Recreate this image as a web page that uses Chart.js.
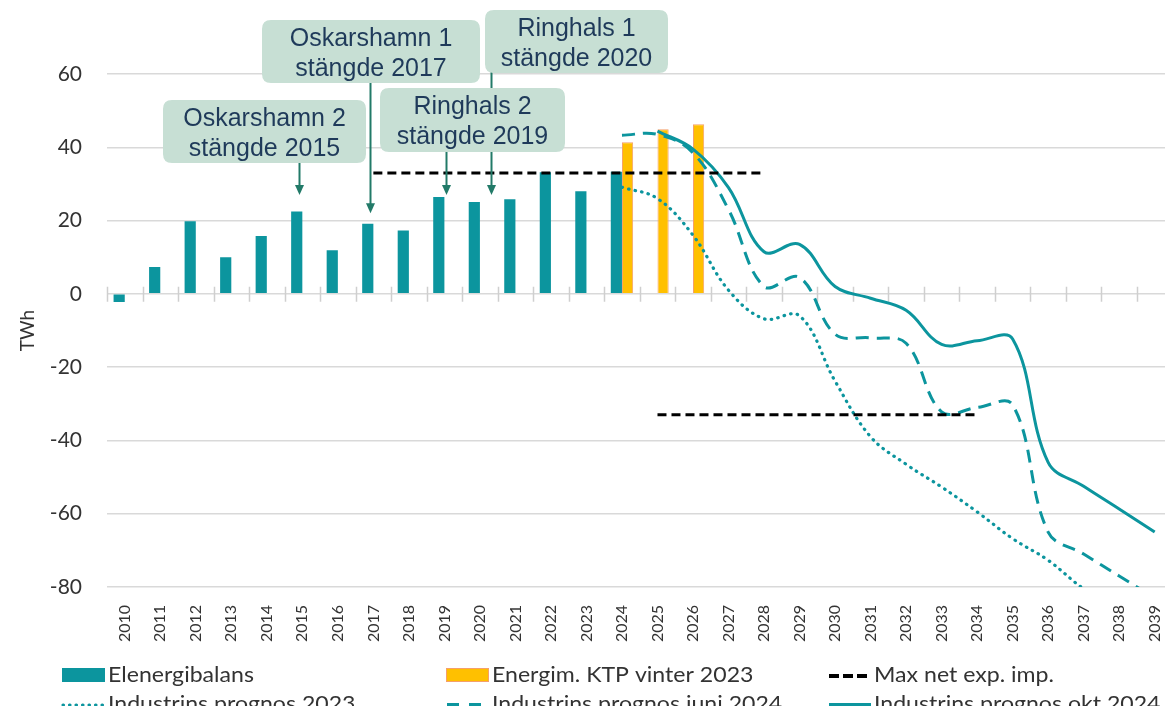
<!DOCTYPE html>
<html>
<head>
<meta charset="utf-8">
<script src="https://cdn.jsdelivr.net/npm/chart.js@4.4.1/dist/chart.umd.min.js"></script>
<style>
html,body{margin:0;padding:0;background:#ffffff;overflow:hidden;}
#wrap{position:absolute;left:0;top:0;width:1184px;height:730px;}
</style>
</head>
<body>
<div id="wrap"><canvas id="c"></canvas></div>
<script>
// ---------- data ----------
const years = ['2010','2011','2012','2013','2014','2015','2016','2017','2018','2019',
               '2020','2021','2022','2023','2024','2025','2026','2027','2028','2029',
               '2030','2031','2032','2033','2034','2035','2036','2037','2038','2039'];

const elenergibalans = [-2.2, 7.3, 19.8, 10.0, 15.8, 22.5, 11.9, 19.1, 17.3, 26.4,
                        25.1, 25.8, 33.2, 28.0, 33.3, null, null, null, null, null,
                        null, null, null, null, null, null, null, null, null, null];

const energimKtp = [null, null, null, null, null, null, null, null, null, null,
                    null, null, null, null, 41.4, 44.9, 46.3, null, null, null,
                    null, null, null, null, null, null, null, null, null, null];

const maxNetExp = [null, null, null, null, null, null, null, 33, 33, 33,
                   33, 33, 33, 33, 33, 33, 33, 33, 33, null,
                   null, null, null, null, null, null, null, null, null, null];

const maxNetImp = [null, null, null, null, null, null, null, null, null, null,
                   null, null, null, null, null, -33, -33, -33, -33, -33,
                   -33, -33, -33, -33, -33, null, null, null, null, null];

const prognos2023 = [null, null, null, null, null, null, null, null, null, null,
                     null, null, null, null, 29.1, 26.0, 16.0, 1.0, -6.8, -6.0,
                     -23.8, -39.0, -46.5, -52.7, -59.5, -66.8, -72.7, -80.5, -86.0, -91.0];

const prognosJuni2024 = [null, null, null, null, null, null, null, null, null, null,
                         null, null, null, null, 43.3, 43.5, 38.5, 23.0, 2.0, 4.5,
                         -11.0, -12.0, -13.5, -32.2, -31.0, -30.3, -65.0, -71.0, -77.0, -83.0];

const prognosOkt2024 = [null, null, null, null, null, null, null, null, null, null,
                        null, null, null, null, null, 44.4, 39.5, 29.0, 11.5, 13.5,
                        2.0, -1.2, -4.5, -13.8, -12.8, -12.3, -46.0, -52.5, -58.7, -65.0];

const yTicks = [-80, -60, -40, -20, 0, 20, 40, 60];
const yTitle = 'TWh';

// ---------- styles ----------
const TEAL = '#0c959e';
const ORANGE = '#ffc000';
const ORANGE_EDGE = '#f5a06a';
const GRID = '#d9d9d9';
const TXT = '#333333';

// annotation callouts (decorations, not data)
const callouts = [
  {lines:['Oskarshamn 1','stängde 2017'], box:[262,20,480,83], cat:7, dx:-3, from:83, tip:22},
  {lines:['Ringhals 1','stängde 2020'],   box:[485,10,668,73], cat:10, dx:11, from:72, tip:27},
  {lines:['Oskarshamn 2','stängde 2015'], box:[163,100,366,163], cat:5, dx:-3, from:163, tip:27},
  {lines:['Ringhals 2','stängde 2019'],   box:[380,88,565,152], cat:9, dx:2, from:152, tip:27}
];

const zeroTicks = {
  id: 'zeroTicks',
  beforeDatasetsDraw(chart) {
    const ctx = chart.ctx, xs = chart.scales.x, ys = chart.scales.y;
    const y0 = ys.getPixelForValue(0);
    const n = xs.getLabels().length;
    const w = (xs.right - xs.left) / n;
    ctx.save();
    ctx.strokeStyle = '#cfcfcf';
    ctx.lineWidth = 1.5;
    ctx.beginPath();
    for (let i = 0; i <= n; i++) {
      const px = Math.round(xs.left + i * w) + 0.5;
      ctx.moveTo(px, y0 - 7);
      ctx.lineTo(px, y0 + 8);
    }
    ctx.stroke();
    ctx.restore();
  }
};

function roundRect(ctx, x0, y0, x1, y1, r) {
  ctx.beginPath();
  ctx.moveTo(x0 + r, y0);
  ctx.lineTo(x1 - r, y0);
  ctx.quadraticCurveTo(x1, y0, x1, y0 + r);
  ctx.lineTo(x1, y1 - r);
  ctx.quadraticCurveTo(x1, y1, x1 - r, y1);
  ctx.lineTo(x0 + r, y1);
  ctx.quadraticCurveTo(x0, y1, x0, y1 - r);
  ctx.lineTo(x0, y0 + r);
  ctx.quadraticCurveTo(x0, y0, x0 + r, y0);
  ctx.closePath();
}

const calloutPlugin = {
  id: 'callouts',
  afterDatasetsDraw(chart) {
    const ctx = chart.ctx, xs = chart.scales.x, ys = chart.scales.y;
    ctx.save();
    ctx.strokeStyle = '#227a68';
    ctx.fillStyle = '#227a68';
    ctx.lineWidth = 2;
    callouts.forEach(c => {
      const x = Math.round(xs.getPixelForValue(c.cat) + c.dx) + 0.5;
      const tipY = ys.getPixelForValue(c.tip);
      ctx.beginPath();
      ctx.moveTo(x, c.from);
      ctx.lineTo(x, tipY - 8);
      ctx.stroke();
      ctx.beginPath();
      ctx.moveTo(x - 4.5, tipY - 10);
      ctx.lineTo(x + 4.5, tipY - 10);
      ctx.lineTo(x, tipY);
      ctx.closePath();
      ctx.fill();
    });
    callouts.forEach(c => {
      const [x0, y0, x1, y1] = c.box;
      roundRect(ctx, x0, y0, x1, y1, 9);
      ctx.fillStyle = '#c7dfd4';
      ctx.fill();
      ctx.fillStyle = '#1f3a5a';
      ctx.font = '25px "Liberation Sans", Arial, sans-serif';
      ctx.textAlign = 'center';
      ctx.textBaseline = 'alphabetic';
      const cx = (x0 + x1) / 2;
      ctx.fillText(c.lines[0], cx, y0 + 26);
      ctx.fillText(c.lines[1], cx, y0 + 56);
    });
    ctx.restore();
  }
};

const legendCols = [62, 446, 828];
const legendRows = [675, 704];
const legendPlugin = {
  id: 'colLegend',
  afterDraw(chart) {
    const ctx = chart.ctx;
    const items = chart.data.datasets.filter(d => !d.hideInLegend);
    ctx.save();
    items.forEach((d, i) => {
      const x = legendCols[i % 3];
      const y = legendRows[Math.floor(i / 3)];
      const sw = 43;
      if (d.type === 'bar') {
        ctx.fillStyle = d.backgroundColor;
        ctx.fillRect(x, y - 7, sw, 14);
        if (d.borderWidth) {
          ctx.strokeStyle = d.borderColor;
          ctx.lineWidth = 1;
          ctx.strokeRect(x + 0.5, y - 6.5, sw - 1, 13);
        }
      } else {
        ctx.strokeStyle = d.borderColor;
        ctx.lineWidth = d.legendWidth || d.borderWidth;
        ctx.lineCap = d.borderCapStyle || 'butt';
        ctx.setLineDash(d.legendDash || d.borderDash || []);
        ctx.beginPath();
        ctx.moveTo(x + 1, y + 1);
        ctx.lineTo(x + sw, y + 1);
        ctx.stroke();
        ctx.setLineDash([]);
        ctx.lineCap = 'butt';
      }
      ctx.fillStyle = TXT;
      ctx.font = '21px Lato, "Open Sans", sans-serif';
      ctx.textAlign = 'left';
      ctx.textBaseline = 'alphabetic';
      ctx.save();
      ctx.translate(x + sw + 3, y + 7);
      ctx.scale(1.1, 1);
      ctx.fillText(d.label, 0, 0);
      ctx.restore();
    });
    ctx.restore();
  }
};

const lineBase = {type: 'line', pointRadius: 0, pointHoverRadius: 0, fill: false, order: 1, spanGaps: false};

new Chart(document.getElementById('c'), {
  data: {
    labels: years,
    datasets: [
      {type: 'bar', label: 'Elenergibalans', data: elenergibalans, backgroundColor: TEAL,
       borderWidth: 0, order: 2, categoryPercentage: 0.63, barPercentage: 1.0},
      {type: 'bar', label: 'Energim. KTP vinter 2023', data: energimKtp, backgroundColor: ORANGE,
       borderColor: ORANGE_EDGE, borderWidth: 1, order: 2, categoryPercentage: 0.63, barPercentage: 1.0},
      Object.assign({}, lineBase, {label: 'Max net exp. imp.', data: maxNetExp, borderColor: '#000000',
       borderWidth: 3, borderDash: [9, 5], tension: 0, legendDash: [10, 4], legendWidth: 4}),
      Object.assign({}, lineBase, {label: 'Max net exp. imp.', data: maxNetImp, borderColor: '#000000',
       borderWidth: 3, borderDash: [9, 5], tension: 0, hideInLegend: true}),
      Object.assign({}, lineBase, {label: 'Industrins prognos 2023', data: prognos2023, borderColor: TEAL,
       borderWidth: 3.2, borderDash: [0.5, 6.2], borderCapStyle: 'round', tension: 0.38, legendDash: [0.5, 6]}),
      Object.assign({}, lineBase, {label: 'Industrins prognos juni 2024', data: prognosJuni2024, borderColor: TEAL,
       borderWidth: 3, borderDash: [13, 8], tension: 0.38, legendDash: [12, 10], legendWidth: 4}),
      Object.assign({}, lineBase, {label: 'Industrins prognos okt 2024', data: prognosOkt2024, borderColor: TEAL,
       borderWidth: 3, tension: 0.38, legendWidth: 4})
    ]
  },
  options: {
    responsive: true,
    maintainAspectRatio: false,
    animation: false,
    devicePixelRatio: 1,
    layout: {padding: {top: 74, right: 6, bottom: 83, left: 0}},
    plugins: {legend: {display: false}, tooltip: {enabled: false}},
    scales: {
      x: {
        type: 'category',
        offset: true,
        grid: {display: false, offset: true},
        border: {display: false},
        ticks: {
          autoSkip: false, minRotation: 90, maxRotation: 90, padding: 10,
          color: TXT, font: {family: 'Lato, "Open Sans", sans-serif', size: 16}
        },
        afterFit(s) { s.height = 60; }
      },
      y: {
        min: -80, max: 60,
        afterBuildTicks(s) { s.ticks = yTicks.map(v => ({value: v})); },
        grid: {color: GRID, lineWidth: 1.5, drawTicks: false},
        border: {display: false},
        ticks: {
          padding: 25, color: TXT,
          font: {family: 'Lato, "Open Sans", sans-serif', size: 21}
        },
        title: {
          display: true, text: yTitle, color: TXT,
          font: {family: 'Lato, "Open Sans", sans-serif', size: 19},
          padding: {top: 16, bottom: 0}
        },
        afterFit(s) { s.width = 107; }
      }
    }
  },
  plugins: [zeroTicks, calloutPlugin, legendPlugin]
});
</script>
</body>
</html>
